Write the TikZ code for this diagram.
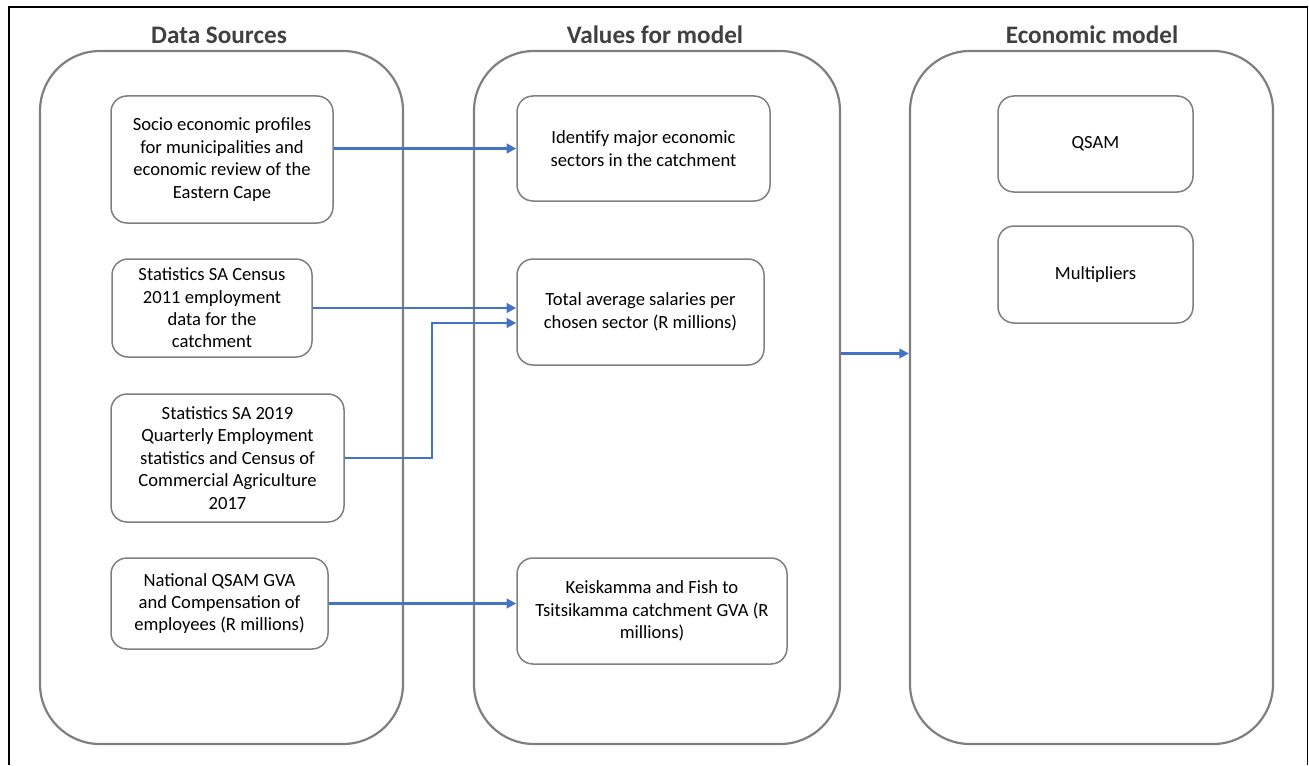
\documentclass[tikz,border=0pt]{standalone}
\usepackage{fontspec}
\setmainfont{Carlito}
\usetikzlibrary{arrows.meta,calc}
\definecolor{boxgray}{HTML}{7F7F7F}
\definecolor{arrowblue}{HTML}{4472C4}
\definecolor{titlegray}{HTML}{404040}
\begin{document}
\begin{tikzpicture}[x=0.5pt,y=-0.5pt,
  colbox/.style={draw=boxgray,line width=1.1pt,rounded corners=30pt,inner sep=0pt},
  itembox/.style={draw=boxgray,line width=0.75pt,rounded corners=8pt,inner sep=0pt,
    align=center,font=\fontsize{9.3}{11.2}\selectfont,text=black},
  coltitle/.style={font=\fontsize{12.6}{15}\selectfont\bfseries,text=titlegray,inner sep=0pt},
  arr/.style={draw=arrowblue,line width=1.1pt,-{Triangle[length=4.8pt,width=4.8pt]}}]
\useasboundingbox (0,0) rectangle (1309,765);
\draw[line width=0.9pt] (9,765) -- (9,7) -- (1307.5,7) -- (1307.5,765);

% columns
\node[colbox,minimum width=181.5pt,minimum height=346.5pt] (col1) at (221.5,397.5) {};
\node[colbox,minimum width=183pt,minimum height=346.5pt] (col2) at (657,397.5) {};
\node[colbox,minimum width=181.5pt,minimum height=346.5pt] (col3) at (1091.5,397.5) {};

\node[coltitle] (t1) at (219,35) {Data Sources};
\node[coltitle] (t2) at (655,35) {Values for model};
\node[coltitle] (t3) at (1092,35) {Economic model};

% data sources
\node[itembox,minimum width=111pt,minimum height=63.5pt] (A) at (222,159.5)
  {Socio economic profiles\\for municipalities and\\economic review of the\\Eastern Cape};
\node[itembox,minimum width=100pt,minimum height=49pt] (B) at (212,308)
  {Statistics SA Census\\2011 employment\\data for the\\catchment};
\node[itembox,minimum width=116.5pt,minimum height=64pt] (C) at (227.5,458)
  {Statistics SA 2019\\Quarterly Employment\\statistics and Census of\\Commercial Agriculture\\2017};
\node[itembox,minimum width=108.5pt,minimum height=45.5pt] (D) at (219.5,603.5)
  {National QSAM GVA\\and Compensation of\\employees (R millions)};

% values for model
\node[itembox,minimum width=126.5pt,minimum height=52.5pt] (E) at (643.5,148.5)
  {Identify major economic\\sectors in the catchment};
\node[itembox,minimum width=123.5pt,minimum height=53pt] (F) at (640.5,312)
  {Total average salaries per\\chosen sector (R millions)};
\node[itembox,minimum width=135pt,minimum height=53pt] (G) at (652,611)
  {Keiskamma and Fish to\\Tsitsikamma catchment GVA (R\\millions)};

% economic model
\node[itembox,minimum width=97.5pt,minimum height=48pt] (H) at (1095.5,144) {QSAM};
\node[itembox,minimum width=97.5pt,minimum height=48.5pt] (I) at (1095.5,274.5) {Multipliers};

% connectors
\draw[arr] (A.east |- E.west) -- (E.west);
\draw[arr] (B.east) -- (B.east -| F.west);
\draw[arr] (C.east) -- ++(87,0) |- ($(F.west)+(0,11)$);
\draw[arr] (D.east) -- (D.east -| G.west);
\draw[arr] ($(col2.east)+(0,-44)$) -- ($(col3.west)+(0,-44)$);
\end{tikzpicture}
\end{document}
